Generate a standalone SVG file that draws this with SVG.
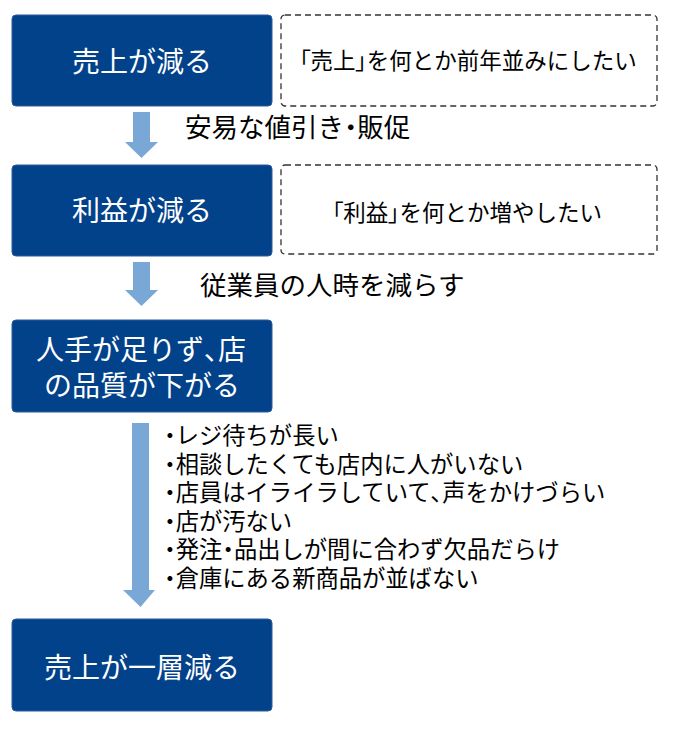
<svg xmlns="http://www.w3.org/2000/svg" width="680" height="734" viewBox="0 0 680 734">
<style>
.box{fill:#02428A;stroke:#2F5A9A;stroke-width:1}
.dash{fill:#fff;stroke:#333;stroke-width:1.3;stroke-dasharray:6 4}
.arr{fill:#79A8D6}
.bt{font-family:"Noto Sans CJK JP","Noto Sans",sans-serif;font-size:28px;fill:#fff;text-anchor:middle}
.dt{font-family:"Noto Sans CJK JP","Noto Sans",sans-serif;font-size:22.5px;fill:#000;text-anchor:middle}
.lt{font-family:"Noto Sans CJK JP","Noto Sans",sans-serif;font-size:26.5px;fill:#000}
.li{font-family:"Noto Sans CJK JP","Noto Sans",sans-serif;font-size:23.3px;fill:#000}
.p{font-feature-settings:"palt"}
</style>
<rect width="680" height="734" fill="#fff"/>
<g id="connectors">
<path class="arr" d="M133,112 H150 V142 H158 L141.5,158 L125,142 H133 Z"/>
<path class="arr" d="M133,262 H150 V290 H158 L141.5,306 L125,290 H133 Z"/>
<path class="arr" d="M132,423 H149 V590 H155 L140.5,607 L123,590 H132 Z"/>
</g>
<g id="n1"><rect class="box" x="12" y="15" width="260" height="91" rx="4"/><text class="bt" x="142" y="72">売上が減る</text></g>
<g id="d1"><rect class="dash" x="281" y="15" width="376" height="91" rx="4"/><text class="dt" x="468" y="69"><tspan class="p">「</tspan>売上<tspan class="p">」</tspan>を何とか前年並みにしたい</text></g>
<g id="l1"><text class="lt" x="185" y="137">安易な値引き<tspan class="p">・</tspan>販促</text></g>
<g id="n2"><rect class="box" x="12" y="165" width="260" height="91" rx="4"/><text class="bt" x="142" y="221">利益が減る</text></g>
<g id="d2"><rect class="dash" x="281" y="165" width="376" height="89" rx="4"/><text class="dt" x="467" y="221"><tspan class="p">「</tspan>利益<tspan class="p">」</tspan>を何とか増やしたい</text></g>
<g id="l2"><text class="lt" x="200" y="295">従業員の人時を減らす</text></g>
<g id="n3"><rect class="box" x="12" y="320" width="260" height="92" rx="4"/><text class="bt" x="141" y="360">人手が足りず<tspan class="p">、</tspan>店</text><text class="bt" x="142" y="396">の品質が下がる</text></g>
<g id="l3">
<text class="li" x="164" y="444"><tspan class="p">・</tspan>レジ待ちが長い</text>
<text class="li" x="164" y="472.6"><tspan class="p">・</tspan>相談したくても店内に人がいない</text>
<text class="li" x="164" y="501.2"><tspan class="p">・</tspan>店員はイライラしていて<tspan class="p">、</tspan>声をかけづらい</text>
<text class="li" x="164" y="529.8"><tspan class="p">・</tspan>店が汚ない</text>
<text class="li" x="164" y="558.4"><tspan class="p">・</tspan>発注<tspan class="p">・</tspan>品出しが間に合わず欠品だらけ</text>
<text class="li" x="164" y="587"><tspan class="p">・</tspan>倉庫にある新商品が並ばない</text>
</g>
<g id="n4"><rect class="box" x="12" y="619" width="260" height="92" rx="4"/><text class="bt" x="142" y="678">売上が一層減る</text></g>
</svg>
